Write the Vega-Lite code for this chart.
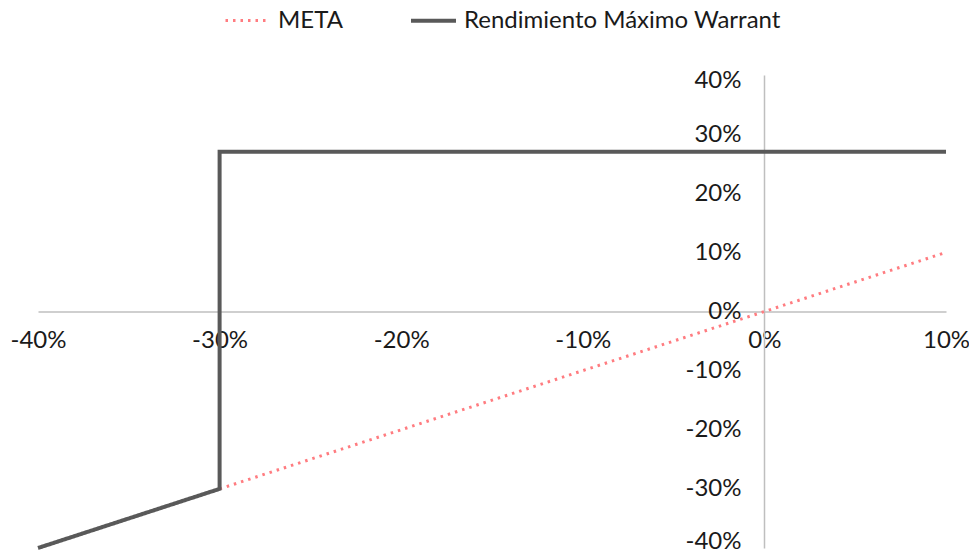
{
  "$schema": "https://vega.github.io/schema/vega-lite/v6.json",
  "width": 908,
  "height": 473,
  "autosize": {"type": "none"},
  "padding": {"left": 38, "top": 75, "right": 23, "bottom": 5},
  "background": "white",
  "config": {
    "view": {"stroke": null},
    "font": "Lato",
    "axis": {"grid": false, "ticks": false, "domainColor": "#BFBFBF", "domainWidth": 1.5, "labelFont": "Lato", "labelFontSize": 24, "labelColor": "#1a1a1a", "title": null}
  },
  "data": {
    "values": [
      {"series": "META", "x": -0.3, "y": -0.3, "o": 1},
      {"series": "META", "x": 0.1, "y": 0.1, "o": 2},
      {"series": "Rendimiento Máximo Warrant", "x": -0.4, "y": -0.4, "o": 1},
      {"series": "Rendimiento Máximo Warrant", "x": -0.3, "y": -0.3, "o": 2},
      {"series": "Rendimiento Máximo Warrant", "x": -0.3, "y": 0.27, "o": 3},
      {"series": "Rendimiento Máximo Warrant", "x": 0.1, "y": 0.27, "o": 4}
    ]
  },
  "encoding": {
    "x": {"field": "x", "type": "quantitative", "scale": {"domain": [-0.4, 0.1], "nice": false, "zero": false},
      "axis": {"orient": "bottom", "offset": -236.5, "labelExpr": "replace(format(datum.value, '.0%'), '\u2212', '-')", "values": [-0.4, -0.3, -0.2, -0.1, 0, 0.1], "labelFlush": false, "labelBaseline": "middle", "labelPadding": 29, "labelOverlap": false}},
    "y": {"field": "y", "type": "quantitative", "scale": {"domain": [-0.4, 0.4], "nice": false},
      "axis": {"orient": "left", "offset": -726, "labelExpr": "replace(format(datum.value, '.0%'), '\u2212', '-')", "values": [-0.4, -0.3, -0.2, -0.1, 0, 0.1, 0.2, 0.3, 0.4], "labelPadding": 23, "labelFlush": false, "labelOverlap": false,
        "labelOffset": {"expr": "datum.value === -0.4 ? -7 : (datum.value === 0.4 ? 5 : 0)"}}},
    "order": {"field": "o", "type": "quantitative"},
    "color": {"field": "series", "type": "nominal", "scale": {"domain": ["META", "Rendimiento Máximo Warrant"], "range": ["#FF7C80", "#595959"]},
      "legend": {"orient": "none", "legendX": 186, "legendY": -79, "direction": "horizontal", "title": null, "symbolType": "stroke", "symbolSize": 2025, "labelFontSize": 24, "labelFont": "Lato", "labelColor": "#1a1a1a", "labelLimit": 0, "columnPadding": 60, "labelOffset": 6}},
    "strokeDash": {"field": "series", "type": "nominal", "scale": {"domain": ["META", "Rendimiento Máximo Warrant"], "range": [[2.5, 5], [1, 0]]}},
    "strokeWidth": {"field": "series", "type": "nominal", "scale": {"domain": ["META", "Rendimiento Máximo Warrant"], "range": [3, 4]}}
  },
  "layer": [
    {"transform": [{"filter": "datum.series === 'META'"}], "mark": {"type": "line", "strokeCap": "butt", "clip": false}},
    {"transform": [{"filter": "datum.series !== 'META'"}], "mark": {"type": "line", "strokeCap": "butt", "clip": false}}
  ]
}
